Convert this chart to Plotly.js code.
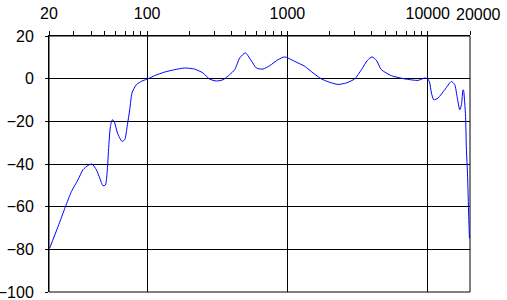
<!DOCTYPE html>
<html>
<head>
<meta charset="utf-8">
<script src="https://cdn.plot.ly/plotly-3.0.1.min.js"></script>
<style>html,body{margin:0;padding:0;background:#fff;}#chart{width:507px;height:300px;}</style>
</head>
<body>
<div id="chart"></div>
<script>
var freq = [20.2, 23.2, 26.2, 28.9, 32.2, 34.9, 37.9, 40.5, 43.5, 46, 48.5, 50.5, 52.1, 53.3, 54.8, 56.6, 58.8, 61.5, 66.3, 69.3, 72.4, 75.2, 78.1, 83.9, 93.5, 101.5,
  113, 133.5, 157, 185, 218, 250, 279, 312, 348, 388, 421, 457, 502, 547, 601, 670, 748, 857, 956,
  1127, 1328, 1522, 1746, 2001, 2294, 2632, 3017, 3368, 3715, 4006, 4306, 4675, 5508, 6851, 8526, 9515, 10000,
  10330, 10620, 11030, 11830, 13210, 14750, 15570, 16170, 16900, 17380, 17840, 18000, 18340, 18600, 18860, 19200, 19580, 19810];
var level = [-79.5, -69.3, -60, -52.9, -47.4, -42.7, -40.7, -40, -42.7, -46.6, -50.2, -49.8, -42.7, -31.8, -22.4, -19.2, -20.8, -25.5, -29.4, -28.6, -21.6, -14.6, -6.7, -2.8, -0.9, -0.1,
  1.4, 3.1, 4.2, 5.0, 4.5, 2.7, -0.2, -1.1, -0.5, 1.9, 4.2, 9.7, 12.1, 8.9, 5.0, 4.5, 6.1, 8.9, 10.2,
  8.1, 5.8, 2.7, -0.1, -1.7, -2.7, -2.0, -0.1, 4.2, 8.6, 10.2, 8.6, 4.2, 1.4, -0.1, -0.8, 0.3, -0.1,
  -2, -6.7, -9.9, -9.1, -5.2, -1.3, -2.8, -8.3, -14.6, -12.2, -5.2, -5.5, -11.4, -17.7, -33.3, -44.3, -64.6, -74.8];
var majorTicks = [20, 100, 1000, 10000, 20000];
var majorLabels = ['20', '100', '1000', '10000', ''];
var minorTicks = [30, 40, 50, 60, 70, 80, 90, 200, 300, 400, 500, 600, 700, 800, 900, 2000, 3000, 4000, 5000, 6000, 7000, 8000, 9000];
var endTick = 20000;
var endLabel = '20000';
var yTicks = [20, 0, -20, -40, -60, -80, -100];

var xr = [Math.log10(20), Math.log10(20000)];
var font = {family: 'Liberation Sans, Arial, sans-serif', size: 16, color: '#000'};

Plotly.newPlot('chart', [{
  x: freq, y: level, type: 'scatter', mode: 'lines',
  line: {color: '#0000ff', width: 1, shape: 'spline', smoothing: 0.6},
  hoverinfo: 'skip', showlegend: false
}], {
  width: 507, height: 300,
  margin: {l: 49, r: 37, t: 36, b: 8, pad: 0},
  paper_bgcolor: '#fff', plot_bgcolor: '#fff',
  font: font,
  xaxis: {
    type: 'log', side: 'top', range: xr, fixedrange: true,
    tickmode: 'array', tickvals: majorTicks, ticktext: majorLabels, tickangle: 0,
    ticks: 'outside', ticklen: 4, tickwidth: 1, tickcolor: '#000',
    ticklabelstandoff: 6, ticklabeloverflow: 'allow',
    showgrid: true, gridcolor: '#000', gridwidth: 1,
    showline: true, linecolor: '#000', linewidth: 1, mirror: false,
    zeroline: false, tickfont: font,
    minor: {tickvals: minorTicks, ticks: 'outside', ticklen: 4, tickwidth: 1, tickcolor: '#000', showgrid: false}
  },
  xaxis2: {
    type: 'log', side: 'top', overlaying: 'x', range: xr, fixedrange: true,
    tickmode: 'array', tickvals: minorTicks, showticklabels: false,
    ticks: 'inside', ticklen: 4, tickwidth: 1, tickcolor: '#000',
    showgrid: false, showline: false, zeroline: false
  },
  yaxis: {
    range: [-100, 20], fixedrange: true,
    tickmode: 'array', tickvals: yTicks,
    ticks: 'outside', ticklen: 3, tickwidth: 1, tickcolor: '#000',
    ticklabelstandoff: 8, ticklabeloverflow: 'allow',
    showgrid: true, gridcolor: '#000', gridwidth: 1,
    showline: true, linecolor: '#000', linewidth: 1, mirror: false,
    zeroline: false, tickfont: font
  },
  annotations: [{
    xref: 'x', yref: 'paper', x: Math.log10(endTick), y: 1,
    text: endLabel, showarrow: false, font: font,
    xanchor: 'center', yanchor: 'middle', xshift: 8, yshift: 22
  }],
  shapes: [{type: 'rect', xref: 'paper', yref: 'paper', x0: 0, x1: 1, y0: 0, y1: 1,
    line: {color: '#000', width: 1}, fillcolor: 'rgba(0,0,0,0)', layer: 'below'}]
}, {staticPlot: true});
</script>
</body>
</html>
